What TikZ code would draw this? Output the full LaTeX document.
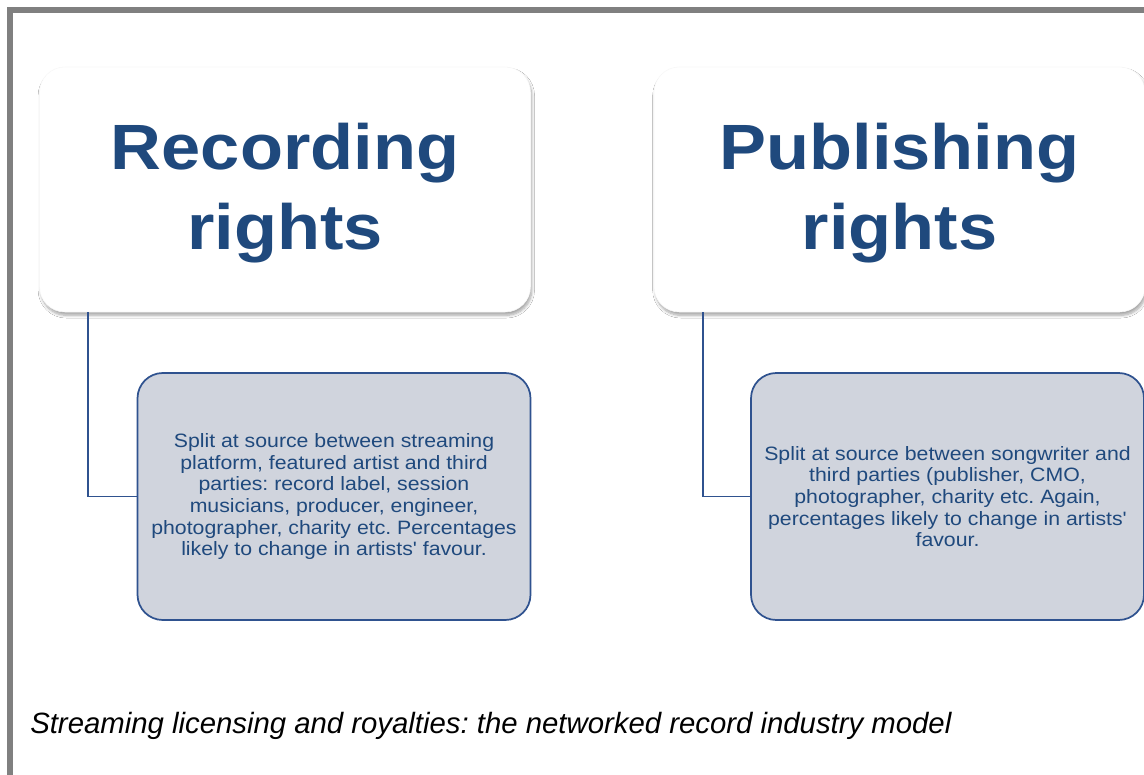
\documentclass[tikz,border=0pt]{standalone}
\usepackage{fontspec}
\setmainfont{Liberation Sans}
\newfontfamily\stretchsans[FakeStretch=1.1]{Liberation Sans}
\usetikzlibrary{shadows.blur}
\definecolor{navy}{HTML}{1F497D}
\definecolor{boxline}{HTML}{2F528F}
\definecolor{boxfill}{HTML}{D0D4DD}
\definecolor{frame}{HTML}{808080}
\frenchspacing
\begin{document}
\frenchspacing
\begin{tikzpicture}[x=0.75pt,y=-0.75pt,
  topbox/.style={draw=black!3, fill=white, rounded corners=19pt,
    minimum width=368.25pt, minimum height=183.75pt, inner sep=0pt,
    blur shadow={shadow xshift=1pt, shadow yshift=-2.5pt, shadow opacity=35, shadow blur radius=2pt, shadow blur steps=8}},
  titletext/.style={text=navy, align=center, font=\stretchsans\bfseries\fontsize{48}{60}\selectfont},
  subbox/.style={draw=boxline, line width=1.3pt, fill=boxfill, rounded corners=19pt,
    minimum width=294.75pt, minimum height=185.25pt, inner sep=0pt,
    text=navy, align=center, font=\stretchsans\fontsize{14.5}{16.25}\selectfont\frenchspacing},
  conn/.style={draw=boxline, line width=1.4pt},
  captiontext/.style={anchor=base west, inner sep=0pt, font=\itshape\fontsize{22}{26}\selectfont\frenchspacing}]
\useasboundingbox (0,0) rectangle (1144,774);
\fill[white] (0,0) rectangle (1144,774);
\draw[frame, line width=4.5pt] (10,780) -- (10,10) -- (1150,10);

\node[topbox] (recbox) at (285,189.5) {};
\node[topbox] (pubbox) at (899.5,189.5) {};
\node[titletext] (rectitle) at ([yshift=-3pt]recbox.center) {Recording\\rights};
\node[titletext] (pubtitle) at ([yshift=-3pt]pubbox.center) {Publishing\\rights};

\node[subbox] (recsub) at (334,496.5) {Split at source between streaming\\platform, featured artist and third\\parties: record label, session\\musicians, producer, engineer,\\photographer, charity etc. Percentages\\likely to change in artists' favour.};
\node[subbox] (pubsub) at (947.5,496.5) {Split at source between songwriter and\\third parties (publisher, CMO,\\photographer, charity etc. Again,\\percentages likely to change in artists'\\favour.};

\draw[conn] ([xshift=36.75pt]recbox.south west) |- (recsub.west);
\draw[conn] ([xshift=36.75pt]pubbox.south west) |- (pubsub.west);

\node[captiontext] (caption) at (30,733) {Streaming licensing and royalties: the networked record industry model};
\end{tikzpicture}
\end{document}
